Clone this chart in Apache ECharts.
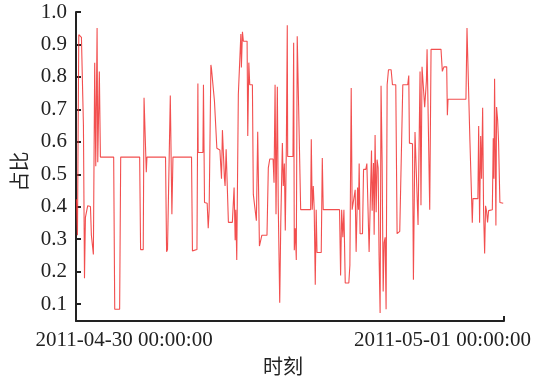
<!DOCTYPE html>
<html>
<head>
<meta charset="utf-8">
<script src="https://cdn.jsdelivr.net/npm/echarts@6.0.0/dist/echarts.min.js"></script>
<style>
  html, body { margin: 0; padding: 0; background: #fff; }
  #chart { width: 540px; height: 381px; }
</style>
</head>
<body>
<div id="chart"></div>
<script>
  // hours relative to 2011-04-30 00:00:00, and the ratio at each of them
  const hours = [
    -3.60, -3.52, -3.42, -3.32, -3.22, -3.15, -3.12, -3.07, -2.99, -2.92,
    -2.79, -2.75, -2.54, -2.47, -2.37, -2.32, -2.22, -2.14, -2.04, -1.99,
    -1.87, -1.79, -0.79, -0.71, -0.34, -0.26, 1.17, 1.24, 1.44, 1.50,
    1.60, 1.67, 1.72, 3.12, 3.20, 3.27, 3.40, 3.48, 3.55, 3.60,
    3.68, 5.08, 5.15, 5.28, 5.49, 5.56, 5.58, 5.94, 5.98, 6.06,
    6.26, 6.34, 6.41, 6.54, 6.58, 6.73, 6.81, 6.91, 6.99, 7.09,
    7.22,
    7.29, 7.34, 7.41, 7.49, 7.56, 7.61, 7.69, 7.76, 7.86, 8.16,
    8.29, 8.37, 8.42, 8.49, 8.61, 8.74, 8.80, 8.84, 8.92, 8.99,
    9.27, 9.32, 9.40, 9.47, 9.67, 9.74, 9.89, 9.97, 10.07, 10.20,
    10.30, 10.38, 10.77, 10.87, 10.98, 11.23, 11.30, 11.38, 11.45, 11.55,
    11.62, 11.73, 11.81, 11.88, 11.93, 12.00, 12.08, 12.15, 12.23, 12.30,
    12.33, 12.73, 12.78, 12.83, 12.90, 12.98, 13.05, 13.18, 13.31, 14.06,
    14.11, 14.18, 14.26, 14.33, 14.41, 14.48, 14.54, 14.86, 14.94, 15.01,
    16.24, 16.32, 16.40, 16.49, 16.57, 16.67, 16.94, 17.02, 17.12, 17.19,
    17.32, 17.42, 17.49, 17.60, 17.67, 17.72, 17.79, 17.97,
    18.05, 18.22, 18.30, 18.40, 18.47, 18.60, 18.65, 18.70, 18.80, 18.85,
    18.92, 19.00, 19.07, 19.15, 19.22, 19.30, 19.37, 19.45, 19.53, 19.60,
    19.68, 19.75, 19.83, 19.93, 20.13, 20.23, 20.48, 20.58, 20.68, 20.78,
    20.93, 21.01, 21.38, 21.46, 21.51, 21.74, 21.81, 21.93, 22.06, 22.16,
    22.31, 22.38, 22.46, 22.59, 22.66, 22.74, 22.79, 22.84, 22.96, 23.04,
    23.14, 23.89, 23.99, 24.11, 24.32, 24.37, 24.42, 25.77, 25.85, 25.92,
    26.07, 26.18, 26.25, 26.30, 26.67, 26.73, 26.80, 26.88, 26.95, 27.03,
    27.10, 27.18, 27.25, 27.33, 27.40, 27.48, 27.55, 27.76, 27.83, 27.88,
    27.93, 27.98, 28.03, 28.08, 28.16, 28.23, 28.33, 28.58
  ]

  const ratios = [
    0.423, 0.312, 0.930, 0.935, 0.922, 0.924, 0.740, 0.652, 0.180, 0.367,
    0.367, 0.403, 0.401, 0.312, 0.310, 0.253, 0.844, 0.525, 0.951, 0.537,
    0.817, 0.553, 0.553, 0.084, 0.084, 0.553, 0.553, 0.268, 0.268, 0.736,
    0.736, 0.506, 0.553, 0.553, 0.261, 0.268, 0.268, 0.743, 0.743, 0.377,
    0.553, 0.553, 0.264, 0.268, 0.268, 0.780, 0.567, 0.567, 0.776, 0.413,
    0.411, 0.334, 0.391, 0.837, 0.827, 0.824, 0.725, 0.725, 0.580, 0.575,
    0.575,
    0.575, 0.486, 0.636, 0.636, 0.489, 0.464, 0.577, 0.575, 0.352, 0.352,
    0.459, 0.297, 0.391, 0.236, 0.746, 0.746, 0.932, 0.829, 0.939, 0.910,
    0.910, 0.618, 0.844, 0.776, 0.776, 0.438, 0.438, 0.357, 0.631, 0.279,
    0.279, 0.312, 0.312, 0.520, 0.547, 0.547, 0.474, 0.776, 0.377, 0.770,
    0.403, 0.104, 0.352, 0.352, 0.596, 0.464, 0.533, 0.327, 0.586, 0.959,
    0.555, 0.555, 0.905, 0.266, 0.334, 0.236, 0.925, 0.925, 0.391, 0.391,
    0.608, 0.391, 0.464, 0.393, 0.160, 0.391, 0.259, 0.259, 0.550, 0.391,
    0.391, 0.188, 0.391, 0.306, 0.391, 0.165, 0.165, 0.220, 0.766, 0.391,
    0.391, 0.452, 0.261, 0.459, 0.391, 0.533, 0.317, 0.317,
    0.515, 0.515, 0.533, 0.533, 0.261, 0.261, 0.573, 0.388, 0.535, 0.314,
    0.621, 0.383, 0.545, 0.520, 0.250, 0.073, 0.773, 0.540, 0.139, 0.289,
    0.306, 0.084, 0.776, 0.822, 0.822, 0.776, 0.776, 0.317, 0.317, 0.324,
    0.327, 0.776, 0.776, 0.804, 0.596, 0.594, 0.175, 0.630, 0.630, 0.344,
    0.817, 0.405, 0.831, 0.831, 0.707, 0.702, 0.788, 0.885, 0.885, 0.391,
    0.885, 0.885, 0.817, 0.831, 0.831, 0.682, 0.731, 0.731, 0.951, 0.956,
    0.604, 0.601, 0.351, 0.425, 0.425, 0.649, 0.351, 0.618, 0.486, 0.705,
    0.388, 0.256, 0.403, 0.385, 0.352, 0.388, 0.391, 0.391, 0.611, 0.486,
    0.794, 0.800, 0.342, 0.707, 0.667, 0.601, 0.413, 0.411
  ]

  const xLabelDays = ['2011-04-30', '2011-05-01']
  const yTicks = [0.1, 0.2, 0.3, 0.4, 0.5, 0.6, 0.7, 0.8, 0.9, 1.0]
  const xRangeHours = [-3.63, 28.64]
  const yRange = [0.048, 1.0]

  const HOUR = 3600 * 1000
  const start = new Date(2011, 3, 30, 0, 0, 0).getTime()
  const toTime = (h) => start + h * HOUR

  const data = hours.map((h, i) => [toTime(h), ratios[i]])
  const xLabelTimes = xLabelDays.map((d) => {
    const [y, m, day] = d.split('-').map(Number)
    return new Date(y, m - 1, day, 0, 0, 0).getTime()
  })
  const xMin = toTime(xRangeHours[0])
  const xMax = toTime(xRangeHours[1])

  const pad = (n) => String(n).padStart(2, '0')
  const fmtTime = (v) => {
    const d = new Date(v)
    return d.getFullYear() + '-' + pad(d.getMonth() + 1) + '-' + pad(d.getDate()) +
      ' ' + pad(d.getHours()) + ':' + pad(d.getMinutes()) + ':' + pad(d.getSeconds())
  }

  const axisColor = '#222'
  const serif = 'Liberation Serif'

  const chart = echarts.init(document.getElementById('chart'))
  chart.setOption({
    animation: false,
    grid: { left: 76, right: 36, top: 12, bottom: 56 },
    xAxis: {
      // timestamps on a plain value axis so the labels can be placed exactly
      type: 'value',
      min: xMin,
      max: xMax,
      scale: true,
      name: '时刻',
      nameLocation: 'middle',
      nameGap: 35,
      nameTextStyle: {
        fontFamily: 'Noto Sans CJK SC',
        fontSize: 20,
        color: axisColor,
        padding: [0, 14, 0, 0]
      },
      axisLine: { lineStyle: { color: axisColor, width: 2 } },
      axisTick: {
        inside: true,
        length: 5,
        customValues: [xMax],
        lineStyle: { color: axisColor, width: 2 }
      },
      axisLabel: {
        customValues: xLabelTimes,
        formatter: (v) => fmtTime(v),
        fontFamily: serif,
        fontSize: 21,
        color: axisColor,
        margin: 9
      },
      splitLine: { show: false }
    },
    yAxis: {
      type: 'value',
      min: yRange[0],
      max: yRange[1],
      name: '占比',
      nameLocation: 'middle',
      nameRotate: 90,
      nameGap: 43,
      nameTextStyle: {
        fontFamily: 'Noto Sans CJK SC',
        fontSize: 20,
        color: axisColor,
        padding: [0, 10, 0, 0]
      },
      axisLine: { show: true, lineStyle: { color: axisColor, width: 2 } },
      axisTick: {
        show: true,
        inside: true,
        length: 5,
        customValues: yTicks,
        lineStyle: { color: axisColor, width: 2 }
      },
      axisLabel: {
        customValues: yTicks,
        formatter: (v) => v.toFixed(1),
        fontFamily: serif,
        fontSize: 21,
        color: axisColor,
        margin: 9
      },
      splitLine: { show: false }
    },
    series: [
      {
        type: 'line',
        data: data,
        showSymbol: false,
        lineStyle: { color: '#f03030', width: 1.1, opacity: 0.85 }
      }
    ]
  })
</script>
</body>
</html>
